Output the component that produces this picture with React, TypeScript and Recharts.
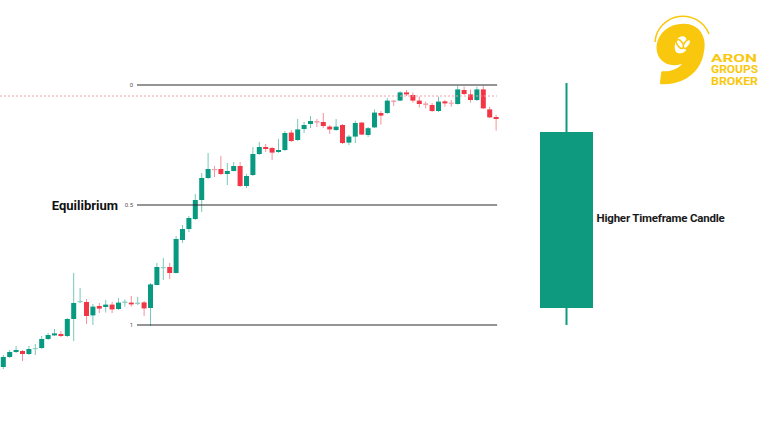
import React from "react";
import { ComposedChart, Bar, XAxis, YAxis, ReferenceLine } from "recharts";

// lower timeframe candles, oldest first
const opens = [
  979, 984, 986.5, 987, 985.5, 988, 988.5, 993, 994.8, 995.5,
  994.5, 1003, 1011.5, 1011.5, 1004.8, 1009.5, 1009, 1010.2, 1008, 1011,
  1011.2, 1010.5, 1011.3, 1008.5, 1020, 1028.5, 1029, 1026, 1042.5, 1048,
  1053, 1062.5, 1073.5, 1078, 1078, 1075.5, 1077, 1079.5, 1069.5, 1075,
  1085.5, 1089, 1088.5, 1086.5, 1087.5, 1096.2, 1092.5, 1098, 1100.5, 1102,
  1101.5, 1099.2, 1097.5, 1100, 1091.2, 1094.2, 1101.2, 1095, 1098.8, 1106,
  1106, 1112.2, 1112.2, 1116.3, 1115, 1112.2, 1110.8, 1110, 1107, 1111.8,
  1111.2, 1110.5, 1117.5, 1115.3, 1112.5, 1117.8, 1107.8, 1104
];
const highs = [
  985, 987.5, 989.5, 987.5, 989.5, 990.5, 994.5, 996, 998, 997,
  1003.5, 1026, 1018.5, 1013, 1010.5, 1011, 1012.5, 1011.5, 1013.5, 1012.8,
  1014.5, 1014, 1012, 1021, 1031, 1033.5, 1031, 1044.5, 1050, 1054.5,
  1065.5, 1076, 1086, 1079.5, 1084.5, 1081, 1081.5, 1081.5, 1075.5, 1089,
  1091.5, 1090.5, 1089, 1093, 1097, 1097.5, 1103, 1101.5, 1104.5, 1103,
  1106, 1100, 1103, 1100.5, 1095, 1102.2, 1101.5, 1099, 1107.8, 1107,
  1113.5, 1112.5, 1116.8, 1117.5, 1116.3, 1114.2, 1111.7, 1111, 1114.2, 1112.5,
  1112.5, 1119.5, 1119.2, 1117.8, 1119.2, 1119.5, 1109, 1105
];
const lows = [
  978, 983.5, 986, 982, 985, 985, 988, 992.5, 994.5, 994,
  994, 992, 1011, 1000.5, 1000, 1006, 1006.2, 1006, 1007.5, 1009.2,
  1009.2, 1010, 1004.5, 999.5, 1019.8, 1022.5, 1023, 1025.8, 1041, 1046.5,
  1052.5, 1056.5, 1073, 1074, 1075, 1070, 1076.8, 1069, 1068.5, 1074.5,
  1085, 1086.5, 1082.5, 1086, 1087, 1091.5, 1092, 1096, 1098.5, 1099,
  1098.5, 1095.5, 1097, 1090.5, 1090, 1091, 1095, 1094, 1098.5, 1100.2,
  1105.5, 1109.5, 1112, 1114.5, 1111.2, 1108.8, 1108.3, 1106.5, 1106.5, 1109.2,
  1109.2, 1110.2, 1115, 1111.2, 1112, 1108.2, 1103.5, 1097.2
];
const closes = [
  984, 986.5, 987.5, 985.5, 988, 988.5, 993, 995, 995.8, 994.5,
  1003, 1011, 1012, 1004.5, 1009.2, 1008.2, 1010.2, 1007.8, 1011.2, 1011.7,
  1010.3, 1011.2, 1008.3, 1020.3, 1029, 1029, 1026, 1043, 1048, 1053.5,
  1062.5, 1073.5, 1078, 1077.5, 1075.5, 1077, 1079.5, 1069.5, 1074.5, 1085.5,
  1089, 1088, 1086.2, 1087.5, 1096, 1092, 1097.8, 1100, 1102, 1101.2,
  1099.5, 1097.8, 1099.2, 1091, 1094.2, 1101, 1095.2, 1098.4, 1106.2, 1104.7,
  1112.2, 1111.5, 1116.3, 1115.3, 1112.2, 1110.5, 1110, 1107, 1111.7, 1110.8,
  1111, 1117.8, 1115.5, 1112.5, 1117.8, 1108.3, 1103.8, 1103
];

// the single higher timeframe candle
const htfSlot = 89;
const htfOpen = 1008.5;
const htfHigh = 1121;
const htfLow = 1000;
const htfClose = 1096.5;

const fibLevels = [
  { ratio: "0", price: 1120, name: "" },
  { ratio: "0.5", price: 1060, name: "Equilibrium" },
  { ratio: "1", price: 1000, name: "" }
];
const lastPrice = 1114.5;

const UP = "#089981";
const DOWN = "#f23645";
const LOGO = "#f9c80e";

const candles = opens.map((open, k) => ({
  idx: k + 1,
  open,
  close: closes[k],
  range: [lows[k], highs[k]]
}));
const chartData = [
  ...candles,
  { idx: htfSlot, open: htfOpen, close: htfClose, htfRange: [htfLow, htfHigh] }
];

const priceToPx = (top: number, h: number, hi: number, lo: number) => (v: number) =>
  top + ((hi - v) / (hi - lo)) * h;

const renderCandle = (props: any) => {
  const { x, y, width, height, payload } = props;
  if (!payload || !payload.range) return <g />;
  const [lo, hi] = payload.range;
  const top = Math.min(y, y + height);
  const h = Math.abs(height);
  const toPx = priceToPx(top, h, hi, lo);
  const up = payload.close >= payload.open;
  const doji = Math.abs(payload.close - payload.open) < 0.8;
  const color = doji ? (up ? "#8fd0c1" : "#f5a0a8") : up ? UP : DOWN;
  const cx = x + width / 2;
  const bTop = toPx(Math.max(payload.open, payload.close));
  const bBot = toPx(Math.min(payload.open, payload.close));
  return (
    <g>
      <line x1={cx} x2={cx} y1={top} y2={top + h} stroke={up ? UP : DOWN} strokeOpacity={0.55} strokeWidth={1} />
      <rect x={cx - 2.5} y={bTop} width={5} height={Math.max(bBot - bTop, 1.2)} fill={color} />
    </g>
  );
};

const renderHtfCandle = (props: any) => {
  const { x, y, width, height, payload } = props;
  if (!payload || !payload.htfRange) return <g />;
  const [lo, hi] = payload.htfRange;
  const top = Math.min(y, y + height);
  const h = Math.abs(height);
  const toPx = priceToPx(top, h, hi, lo);
  const cx = x + width / 2;
  const bTop = toPx(Math.max(payload.open, payload.close));
  const bBot = toPx(Math.min(payload.open, payload.close));
  return (
    <g>
      <line x1={cx} x2={cx} y1={top} y2={top + h} stroke="#0e9a7e" strokeWidth={2} />
      <rect x={cx - 26.5} y={bTop} width={53} height={bBot - bTop} fill="#0e9a7e" />
      <text x={cx + 30} y={(bTop + bBot) / 2 + 2} fontSize={11.5} fontWeight={700} fill="#1a1a1a" letterSpacing={-0.2}>
        Higher Timeframe Candle
      </text>
    </g>
  );
};

const levelLabel = (ratio: string, name: string) => (props: any) => {
  const vb = props.viewBox || {};
  return (
    <g>
      <text x={vb.x - 4} y={vb.y + 2} fontSize={6} fill="#555" textAnchor="end">
        {ratio}
      </text>
      {name ? (
        <text x={118} y={vb.y + 4.5} fontSize={13} fontWeight={700} fill="#111" textAnchor="end">
          {name}
        </text>
      ) : null}
    </g>
  );
};

// x domain chosen so that candle 1 sits 3px from the left, 6.4px per slot
const slotPx = 6.4;
const xMin = 1 - 3 / slotPx;
const xMax = xMin + 780 / slotPx;
const lineFrom = 1 + (137 - 3) / slotPx;
const lineTo = 78.2;

export default function App() {
  return (
    <div style={{ position: "absolute", left: 0, top: 0, width: 780, height: 439, background: "#fff", fontFamily: "Roboto, 'Open Sans', sans-serif" }}>
      <ComposedChart width={780} height={439} data={chartData} margin={{ top: 0, right: 0, bottom: 0, left: 0 }}>
        <XAxis xAxisId="ltf" dataKey="idx" type="number" domain={[xMin, xMax]} allowDataOverflow hide />
        <XAxis xAxisId="htf" dataKey="idx" type="number" domain={[xMin, xMax]} allowDataOverflow hide />
        <YAxis domain={[943, 1162.5]} allowDataOverflow hide />
        <ReferenceLine
          xAxisId="ltf"
          segment={[{ x: xMin, y: lastPrice }, { x: lineTo, y: lastPrice }]}
          stroke="#f4a3aa"
          strokeDasharray="2 2"
          strokeWidth={1}
        />
        {fibLevels.map((lvl) => (
          <ReferenceLine
            key={lvl.ratio}
            xAxisId="ltf"
            segment={[{ x: lineFrom, y: lvl.price }, { x: lineTo, y: lvl.price }]}
            stroke="#2b2b2b"
            strokeWidth={1.2}
            label={levelLabel(lvl.ratio, lvl.name)}
          />
        ))}
        <Bar xAxisId="ltf" dataKey="range" barSize={5} shape={renderCandle} isAnimationActive={false} />
        <Bar xAxisId="htf" dataKey="htfRange" barSize={5} shape={renderHtfCandle} isAnimationActive={false} />
      </ComposedChart>
      <svg width={780} height={439} style={{ position: "absolute", left: 0, top: 0, pointerEvents: "none" }}>
        <path d="M655 42 A 28 28 0 0 1 709 34" fill="none" stroke={LOGO} strokeWidth={1.5} />
        <g transform="translate(652 82) scale(1.18 1)">
          <text x={0} y={0} fontSize={80} fontWeight={900} fontStyle="italic" fill={LOGO} stroke={LOGO} strokeWidth={2.5} strokeLinejoin="round">
            9
          </text>
        </g>
        <ellipse cx={680} cy={44} rx={2.6} ry={5} transform="rotate(-35 680 44)" fill="#fff" stroke={LOGO} strokeWidth={1.5} />
        <ellipse cx={687} cy={44} rx={2.6} ry={5} transform="rotate(35 687 44)" fill="#fff" stroke={LOGO} strokeWidth={1.5} />
        <text x={711} y={61.5} fontSize={10.5} fontWeight={700} fill={LOGO} textLength={46} lengthAdjust="spacingAndGlyphs">ARON</text>
        <text x={711} y={73} fontSize={10.5} fontWeight={700} fill={LOGO} textLength={47} lengthAdjust="spacingAndGlyphs">GROUPS</text>
        <text x={711} y={84.5} fontSize={10.5} fontWeight={700} fill={LOGO} textLength={47} lengthAdjust="spacingAndGlyphs">BROKER</text>
      </svg>
    </div>
  );
}
